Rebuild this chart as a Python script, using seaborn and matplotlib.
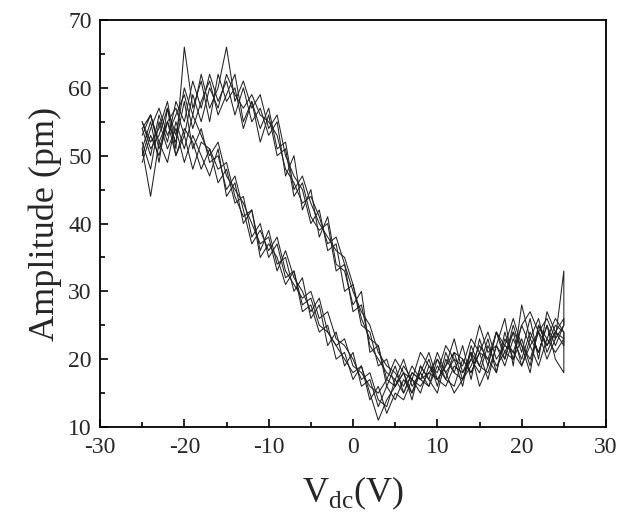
import numpy as np
import pandas as pd
import seaborn as sns
import matplotlib
matplotlib.use("Agg")
import matplotlib.pyplot as plt
from matplotlib.ticker import MultipleLocator

# Bias voltage grid (V)
V = list(range(-25, 26))

# Forward sweeps (-25 -> 25 V), amplitude in pm
U1 = [54,50,56,52,58,55,61,57,62,58, 61,56,60,55,57,53,55,47,50,42, 45,38,41,34,33,28,30,21,22,16,
      19,15,18,17,20,16,21,18,22,17, 23,19,24,20,25,21,26,20,27,24, 26]
U2 = [51,55,49,57,53,60,56,62,57,60, 66,58,61,57,59,54,56,50,47,45, 40,42,36,37,30,31,25,24,19,20,
      16,18,15,19,17,21,18,20,16,22, 19,23,18,24,20,23,19,25,22,24, 23]
U3 = [55,52,54,58,51,66,57,61,55,62, 58,60,54,58,52,56,50,51,44,46, 41,39,40,33,34,27,28,22,20,18,
      17,20,16,18,21,17,19,23,18,20, 25,21,22,26,19,28,23,21,25,20, 18]
U4 = [53,56,51,55,57,53,59,55,60,57, 62,59,57,59,56,55,53,48,46,43, 44,41,37,38,34,30,27,25,21,19,
      18,16,19,17,18,20,17,21,20,18, 21,24,20,22,26,22,20,24,26,23, 33]
U5 = [50,54,57,53,56,59,54,58,61,56, 59,62,55,58,54,57,51,52,45,47, 43,40,38,36,35,31,26,23,22,17,
      20,18,17,21,19,18,22,20,19,23, 21,20,24,22,21,25,27,24,22,25, 24]

# Reverse sweeps (values listed on the same -25 -> 25 V grid)
L1 = [52,48,55,51,54,49,53,50,47,51, 44,46,40,42,36,39,34,35,30,32, 26,28,22,24,19,21,16,17,13,16,
      14,17,15,18,16,19,17,16,20,18, 21,17,22,19,23,20,24,21,25,22, 25]
L2 = [55,51,53,57,50,54,52,48,51,46, 48,43,44,38,40,35,37,32,33,28, 29,25,24,22,20,18,19,14,16,12,
      15,14,17,15,19,17,16,19,18,21, 19,18,22,20,24,19,23,26,21,24, 22]
L3 = [49,53,50,55,52,58,51,54,49,50, 45,47,42,37,39,36,38,33,31,29, 30,26,27,23,22,20,17,18,14,13,
      17,15,18,17,16,20,18,15,17,21, 16,19,24,21,20,25,22,19,23,26, 24]
L4 = [54,56,52,49,55,51,56,53,50,52, 47,45,43,40,37,38,33,36,32,30, 27,29,24,22,23,19,18,16,15,17,
      16,18,14,19,17,15,20,18,17,19, 22,20,18,23,21,19,22,24,20,23, 25]
L5 = [51,44,52,55,50,53,48,52,51,48, 49,44,41,42,35,37,35,31,33,27, 28,24,25,20,21,17,19,15,11,14,
      16,19,17,16,18,17,19,21,17,20, 18,22,19,21,24,22,18,25,23,21, 23]

forward = [U1, U2, U3, U4, U5]
reverse = [L1, L2, L3, L4, L5]

rows = []
for k, (fw, rv) in enumerate(zip(forward, reverse)):
    order = 0
    for v, a in zip(V, fw):
        rows.append((k, order, v, a)); order += 1
    for v, a in zip(V[::-1], rv[::-1]):
        rows.append((k, order, v, a)); order += 1
df = pd.DataFrame(rows, columns=["loop", "order", "V", "amp"])

sns.set_theme(style="white")
plt.rcParams['font.family'] = ['Liberation Serif', 'DejaVu Serif']
plt.rcParams['mathtext.fontset'] = 'custom'
plt.rcParams['mathtext.rm'] = 'Liberation Serif'
plt.rcParams['axes.unicode_minus'] = False

fig = plt.figure(figsize=(6.2, 5.17), dpi=100)
ax = fig.add_axes([100/620, 1-427/517, 506/620, 407/517])

sns.lineplot(data=df, x="V", y="amp", units="loop", estimator=None, sort=False,
             color="#222222", linewidth=0.75, ax=ax, legend=False)

ax.set_xlim(-30, 30)
ax.set_ylim(10, 70)
ax.xaxis.set_major_locator(MultipleLocator(10))
ax.xaxis.set_minor_locator(MultipleLocator(5))
ax.yaxis.set_major_locator(MultipleLocator(10))
ax.yaxis.set_minor_locator(MultipleLocator(5))
ax.tick_params(which="both", direction="in", top=False, right=False,
               left=True, bottom=True, width=1.2, color="black")
ax.tick_params(which="major", length=6, labelsize=17)
ax.tick_params(axis="x", which="major", pad=7)
ax.tick_params(axis="y", which="major", pad=6)
ax.tick_params(which="minor", length=3.5)
for s in ax.spines.values():
    s.set_color("black")
    s.set_linewidth(1.3)

ax.set_xlabel(r"V$_\mathregular{dc}$(V)", fontsize=26, labelpad=12)
ax.set_ylabel("Amplitude (pm)", fontsize=26, labelpad=4)

fig.savefig("out.png", dpi=100, facecolor="white")
